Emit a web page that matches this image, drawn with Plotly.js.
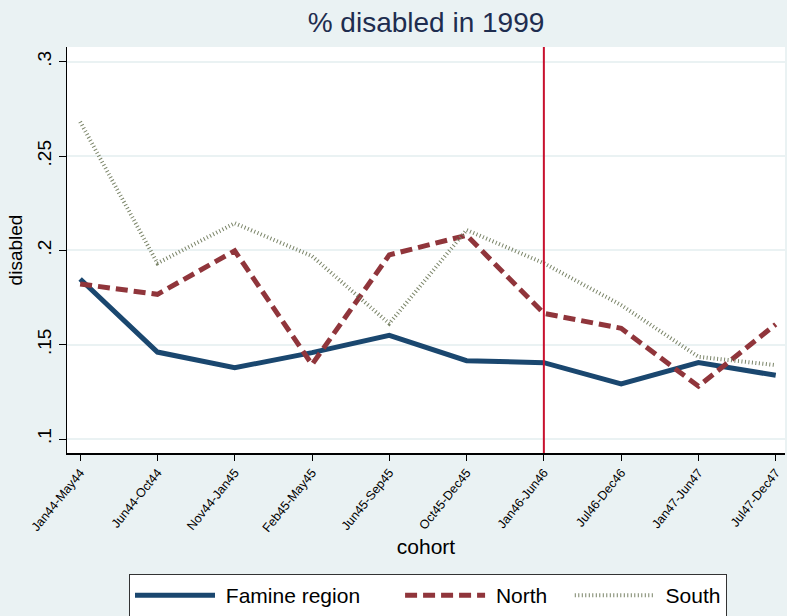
<!DOCTYPE html>
<html>
<head>
<meta charset="utf-8">
<script src="https://cdn.plot.ly/plotly-3.0.1.min.js"></script>
<style>html,body{margin:0;padding:0;background:#eaf2f3;}#chart{width:787px;height:616px;}</style>
</head>
<body>
<div id="chart"></div>
<script>
const cohorts = ["Jan44-May44","Jun44-Oct44","Nov44-Jan45","Feb45-May45","Jun45-Sep45","Oct45-Dec45","Jan46-Jun46","Jul46-Dec46","Jan47-Jun47","Jul47-Dec47"];
const famine = [0.1848, 0.1461, 0.1378, 0.1458, 0.1550, 0.1415, 0.1405, 0.1292, 0.1405, 0.1338];
const north  = [0.1822, 0.1767, 0.1998, 0.1395, 0.1976, 0.2080, 0.1666, 0.1587, 0.1280, 0.1608];
const south  = [0.2682, 0.1932, 0.2144, 0.1970, 0.1612, 0.2108, 0.1932, 0.1710, 0.1436, 0.1392];
const seriesNames = ["Famine region", "North", "South"];
const yTickVals = [0.1, 0.15, 0.2, 0.25, 0.3];
const yTickText = [".1", ".15", ".2", ".25", ".3"];
const cutoffCohort = "Jan46-Jun46";

const NB = "\u00A0";
const traces = [
  {x: cohorts, y: famine, name: NB + seriesNames[0] + NB.repeat(6), type: "scatter", mode: "lines",
   line: {color: "#1a476f", width: 5}},
  {x: cohorts, y: north, name: NB + seriesNames[1] + NB.repeat(3), type: "scatter", mode: "lines",
   line: {color: "#90353b", width: 5, dash: "12px,6px"}},
  {x: cohorts, y: south, name: NB + seriesNames[2], type: "scatter", mode: "lines",
   line: {color: "#7a8468", width: 4, dash: "1px,2.5px"}}
];

const layout = {
  width: 787, height: 616,
  paper_bgcolor: "#eaf2f3", plot_bgcolor: "#ffffff",
  margin: {l: 67, r: 2, t: 47, b: 163, pad: 0},
  font: {family: "Liberation Sans, Arial, sans-serif", color: "#000"},
  title: {text: "% disabled in 1999", font: {size: 28, color: "#1e2d4f"},
          x: 0.5, xref: "paper", xanchor: "center", y: 1 - 22/616, yref: "container", yanchor: "middle"},
  xaxis: {type: "category", range: [-0.17, 9.12], showgrid: false, zeroline: false,
          showline: true, linecolor: "#000", linewidth: 1.5,
          ticks: "outside", ticklen: 6, tickcolor: "#000", tickwidth: 1,
          tickangle: -51, tickfont: {size: 12.5, color: "#000"},
          title: {text: "cohort", font: {size: 21}, standoff: 5}},
  yaxis: {range: [0.0926, 0.3078], tickvals: yTickVals, ticktext: yTickText,
          showgrid: true, gridcolor: "#eaf2f3", gridwidth: 2, zeroline: false,
          showline: true, linecolor: "#000", linewidth: 1.5,
          ticks: "outside", ticklen: 7, tickcolor: "#000", tickwidth: 1,
          tickangle: -90, tickfont: {size: 19, color: "#000"},
          title: {text: "disabled", font: {size: 19}, standoff: 6}},
  shapes: [{type: "line", xref: "x", yref: "paper", x0: cutoffCohort, x1: cutoffCohort, y0: 0, y1: 1,
            line: {color: "#c8102e", width: 2}}],
  showlegend: true,
  legend: {orientation: "h", xref: "container", yref: "container", x: 428/787, xanchor: "center",
           y: 1 - 574/616, yanchor: "top", bgcolor: "#ffffff", bordercolor: "#333", borderwidth: 1,
           font: {size: 21, color: "#000"}, itemwidth: 80, tracegroupgap: 0}
};

Plotly.newPlot("chart", traces, layout, {displayModeBar: false, staticPlot: true});
</script>
</body>
</html>
